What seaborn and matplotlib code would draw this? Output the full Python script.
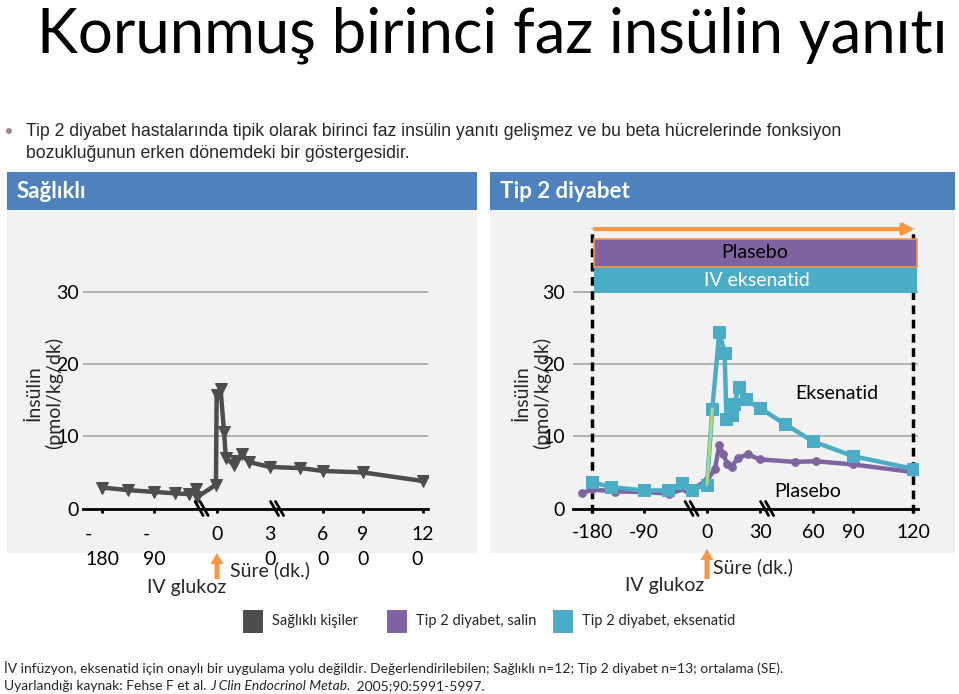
import numpy as np
import matplotlib
matplotlib.use("Agg")
import matplotlib.pyplot as plt
import seaborn as sns
from matplotlib.patches import Rectangle, FancyArrow, Circle
from matplotlib.lines import Line2D
from matplotlib.transforms import IdentityTransform

# ---------------- data ----------------
healthy_t = [-180, -135, -90, -60, -40, -30, -28, -1.5, -0.5, 2, 4, 5, 9.5, 11, 14, 18, 30, 47, 60, 90, 120]
healthy_v = [2.9, 2.55, 2.3, 2.1, 2.0, 2.65, 1.6, 3.3, 15.7, 16.6, 10.6, 7.05, 6.0, 6.6, 7.6, 6.45, 5.75, 5.6, 5.2, 5.0, 3.8]

placebo_t = [-197, -180, -140, -90, -55, -30, -24, 0, 4.5, 7, 9, 11.5, 14, 17.5, 23, 30, 50, 62, 90, 120]
placebo_v = [2.1, 2.65, 2.35, 2.3, 2.05, 2.75, 2.5, 3.9, 5.5, 8.8, 7.6, 6.2, 5.8, 7.0, 7.5, 6.8, 6.45, 6.55, 6.1, 5.05]

exen_t = [-180, -147, -90, -56, -36, -22, 0, 3, 7, 10, 11, 14, 15.5, 18, 22, 30, 44, 60, 90, 120]
exen_v = [3.67, 2.97, 2.5, 2.5, 3.5, 2.6, 3.3, 13.8, 24.5, 21.5, 12.4, 13.0, 14.5, 16.8, 15.1, 13.9, 11.7, 9.3, 7.25, 5.5]

bridge_t = [0, 3]
bridge_v = [3.3, 13.8]

x_ticks = [-180, -90, 0, 30, 60, 90, 120]
left_tick_labels = ['-\n180', '-\n90', '0', '3\n0', '6\n0', '9\n0', '12\n0']
right_tick_labels = ['-180', '-90', '0', '30', '60', '90', '120']
y_ticks = [0, 10, 20, 30]
y_tick_labels = ['0', '10', '20', '30']

C_DARK = '#4d4d4d'
C_PURP = '#8064a2'
C_TEAL = '#4bacc6'
C_ORNG = '#f79646'
C_BLUE = '#4f81bd'
C_PANEL = '#f2f2f2'

sns.set_theme(style='white')
plt.rcParams['font.family'] = ['Lato', 'DejaVu Sans']

W, H = 959, 694
fig = plt.figure(figsize=(W / 100, H / 100), dpi=100)
fig.patch.set_facecolor('white')


def fx(x):
    return x / W


def fy(y):
    return 1 - y / H


# broken time axis as a piecewise-linear scale
KT = np.array([-400, -180, -90, 0, 30, 60, 90, 120, 400], dtype=float)
KU = np.array([464.9, 592, 644, 707, 760, 813, 853, 913, 1473], dtype=float)


def fwd(t):
    return np.interp(t, KT, KU)


def inv(u):
    return np.interp(u, KU, KT)


# ---------------- slide frame ----------------
for (x0, x1) in [(7, 477), (490, 955)]:
    fig.add_artist(Rectangle((fx(x0), fy(553)), fx(x1 - x0), 343 / H, transform=fig.transFigure,
                             facecolor=C_PANEL, edgecolor='none', zorder=-5))
    fig.add_artist(Rectangle((fx(x0), fy(210)), fx(x1 - x0), 38 / H, transform=fig.transFigure,
                             facecolor=C_BLUE, edgecolor='none', zorder=-5))

fig.text(fx(17), fy(191), 'Sağlıklı', color='white', fontsize=16, fontweight='bold', va='center', ha='left')
fig.text(fx(500), fy(191), 'Tip 2 diyabet', color='white', fontsize=16, fontweight='bold', va='center', ha='left')

renderer = fig.canvas.get_renderer()


def fit(t, width):
    bb = t.get_window_extent(renderer=renderer)
    t.set_fontsize(t.get_fontsize() * width / bb.width)


title = fig.text(fx(492), fy(52), 'Korunmuş birinci faz insülin yanıtı', ha='center', va='baseline',
                 fontsize=46, fontweight='normal', color='black')
fit(title, 912)

fig.add_artist(Circle((9, H - 131), 3, transform=IdentityTransform(), facecolor='#a08888', edgecolor='none'))
NARROW = ['Liberation Sans Narrow', 'Liberation Sans', 'DejaVu Sans']
b1 = fig.text(fx(26), fy(131), 'Tip 2 diyabet hastalarında tipik olarak birinci faz insülin yanıtı gelişmez ve bu beta hücrelerinde fonksiyon',
              ha='left', va='center', fontsize=12, family=NARROW)
fit(b1, 819)
b2 = fig.text(fx(26), fy(154), 'bozukluğunun erken dönemdeki bir göstergesidir.',
              ha='left', va='center', fontsize=b1.get_fontsize(), family=NARROW)

# ---------------- axes ----------------
V_PX = 7.22
Y_TOP = 39.5
ax_h = Y_TOP * V_PX


def make_axes(left_px, labels, ylabel_x, xpad):
    ax = fig.add_axes([fx(left_px), fy(508.5), 345 / W, ax_h / H])
    ax.set_facecolor('none')
    ax.set_xscale('function', functions=(fwd, inv))
    ax.set_xlim(inv(573), inv(918))
    ax.set_ylim(0, Y_TOP)
    for s in ['left', 'right', 'top']:
        ax.spines[s].set_visible(False)
    ax.spines['bottom'].set_color('black')
    ax.spines['bottom'].set_linewidth(2)
    ax.spines['bottom'].set_zorder(4)
    ax.set_yticks(y_ticks)
    ax.set_yticklabels(y_tick_labels)
    ax.yaxis.grid(True, color='#a6a6a6', lw=1.2, zorder=0)
    ax.xaxis.grid(False)
    ax.tick_params(axis='y', length=0, labelsize=14, pad=3, labelcolor='black')
    ax.set_xticks(x_ticks)
    ax.set_xticklabels(labels)
    ax.tick_params(axis='x', direction='out', length=3, width=2, color='black', labelsize=14, pad=xpad,
                   bottom=True, labelcolor='black')
    fig.text(fx(ylabel_x), fy(393), 'İnsülin\n(pmol/kg/dk)', rotation=90, ha='center', va='center',
             fontsize=14, linespacing=1.15)
    return ax


axL = make_axes(83, left_tick_labels, 44, 9.5)
axR = make_axes(573, right_tick_labels, 532, 8)
axR.tick_params(axis='y', pad=6)

for lab in axL.get_xticklabels():
    lab.set_multialignment('left')
    lab.set_linespacing(1.55)
axL.xaxis.get_major_ticks()[3].tick1line.set_visible(False)

# ---------------- series ----------------
sns.lineplot(x=healthy_t, y=healthy_v, ax=axL, color=C_DARK, lw=3.2, marker='v', markersize=9,
             markeredgecolor=C_DARK, estimator=None, sort=False, zorder=5)

axR.vlines([-180, 120], -0.6, 38.8, colors='black', linestyles=(0, (2.5, 1.6)), lw=2.5,
           clip_on=False, zorder=2)
sns.lineplot(x=placebo_t, y=placebo_v, ax=axR, color=C_PURP, lw=3.2, marker='o', markersize=5.5,
             markeredgecolor=C_PURP, estimator=None, sort=False, zorder=5)
sns.lineplot(x=exen_t, y=exen_v, ax=axR, color=C_TEAL, lw=3.2, marker='s', markersize=8,
             markeredgecolor=C_TEAL, estimator=None, sort=False, zorder=6)
sns.lineplot(x=bridge_t, y=bridge_v, ax=axR, color='#a6d88a', lw=2.2, estimator=None, sort=False, zorder=7)

for ax in (axL, axR):
    ax.set_xlabel('')
    ax.set_ylabel('')
    ax.set_xlim(inv(573), inv(918))
    ax.set_ylim(0, Y_TOP)

# infusion bars and arrow (right panel)
x_a, x_b = inv(593.5), inv(917)
axR.add_patch(Rectangle((x_a, 29.9), x_b - x_a, 3.6, facecolor=C_TEAL, edgecolor='none', zorder=3))
axR.add_patch(Rectangle((x_a, 33.5), x_b - x_a, 3.8, facecolor=C_PURP, edgecolor=C_ORNG, lw=1.2, zorder=3))
axR.text(inv(755), 35.4, 'Plasebo', ha='center', va='center', fontsize=14, color='black', zorder=4)
axR.text(inv(757), 31.6, 'IV eksenatid', ha='center', va='center', fontsize=14, color='white', zorder=4)
axR.annotate('', xy=(inv(915), 38.7), xytext=(inv(595), 38.7), annotation_clip=False,
             arrowprops=dict(arrowstyle='-|>', color=C_ORNG, lw=3, mutation_scale=16, shrinkA=0, shrinkB=0))
axR.text(inv(837), 15.9, 'Eksenatid', ha='center', va='center', fontsize=14, color='black')
axR.text(inv(808), 2.3, 'Plasebo', ha='center', va='center', fontsize=14, color='black')

# axis break marks
for ax in (axL, axR):
    for xb in (-22, 34):
        px, py = ax.transData.transform((xb, 0))
        for off in (-2.5, 2.5):
            fig.add_artist(Line2D([px + off - 4, px + off + 4], [py + 7, py - 7], color='black', lw=2,
                                  transform=IdentityTransform(), zorder=10))

# IV glukoz arrows and labels
for ax, y_top, sx, sy, gx, gy in [(axL, 553, 270, 570, 187, 588), (axR, 549, 753, 567, 665, 585)]:
    px0 = ax.transData.transform((0, 0))[0]
    fig.add_artist(FancyArrow(px0, H - 579, 0, 579 - y_top, width=5, head_width=13, head_length=11,
                              length_includes_head=True, transform=IdentityTransform(),
                              facecolor=C_ORNG, edgecolor='none', zorder=10))
    fig.text(fx(sx), fy(sy), 'Süre (dk.)', ha='center', va='center', fontsize=14)
    fig.text(fx(gx), fy(gy), 'IV glukoz', ha='center', va='center', fontsize=14)

# ---------------- legend ----------------
for x0, col, lab in [(243, C_DARK, 'Sağlıklı kişiler'), (387, C_PURP, 'Tip 2 diyabet, salin'),
                     (553, C_TEAL, 'Tip 2 diyabet, eksenatid')]:
    fig.add_artist(Rectangle((fx(x0), fy(633)), fx(20), 23 / H, transform=fig.transFigure,
                             facecolor=col, edgecolor='none'))
    fig.text(fx(x0 + 29), fy(621), lab, ha='left', va='center', fontsize=10.5)

# ---------------- footnote ----------------
f1 = fig.text(fx(4), fy(668), 'İV infüzyon, eksenatid için onaylı bir uygulama yolu değildir. '
              'Değerlendirilebilen; Sağlıklı n=12; Tip 2 diyabet n=13; ortalama (SE).',
              ha='left', va='center', fontsize=11)
fit(f1, 780)
fs = f1.get_fontsize()
xcur = 4
for part, style in [('Uyarlandığı kaynak: Fehse F et al. ', 'normal'), ('J Clin Endocrinol Metab.', 'italic'),
                    (' 2005;90:5991-5997.', 'normal')]:
    t = fig.text(fx(xcur), fy(686), part, ha='left', va='center', fontsize=fs, style=style)
    bb = t.get_window_extent(renderer=renderer)
    xcur += bb.width + (0 if style == 'normal' else 3)

fig.savefig('out.png', dpi=100)
